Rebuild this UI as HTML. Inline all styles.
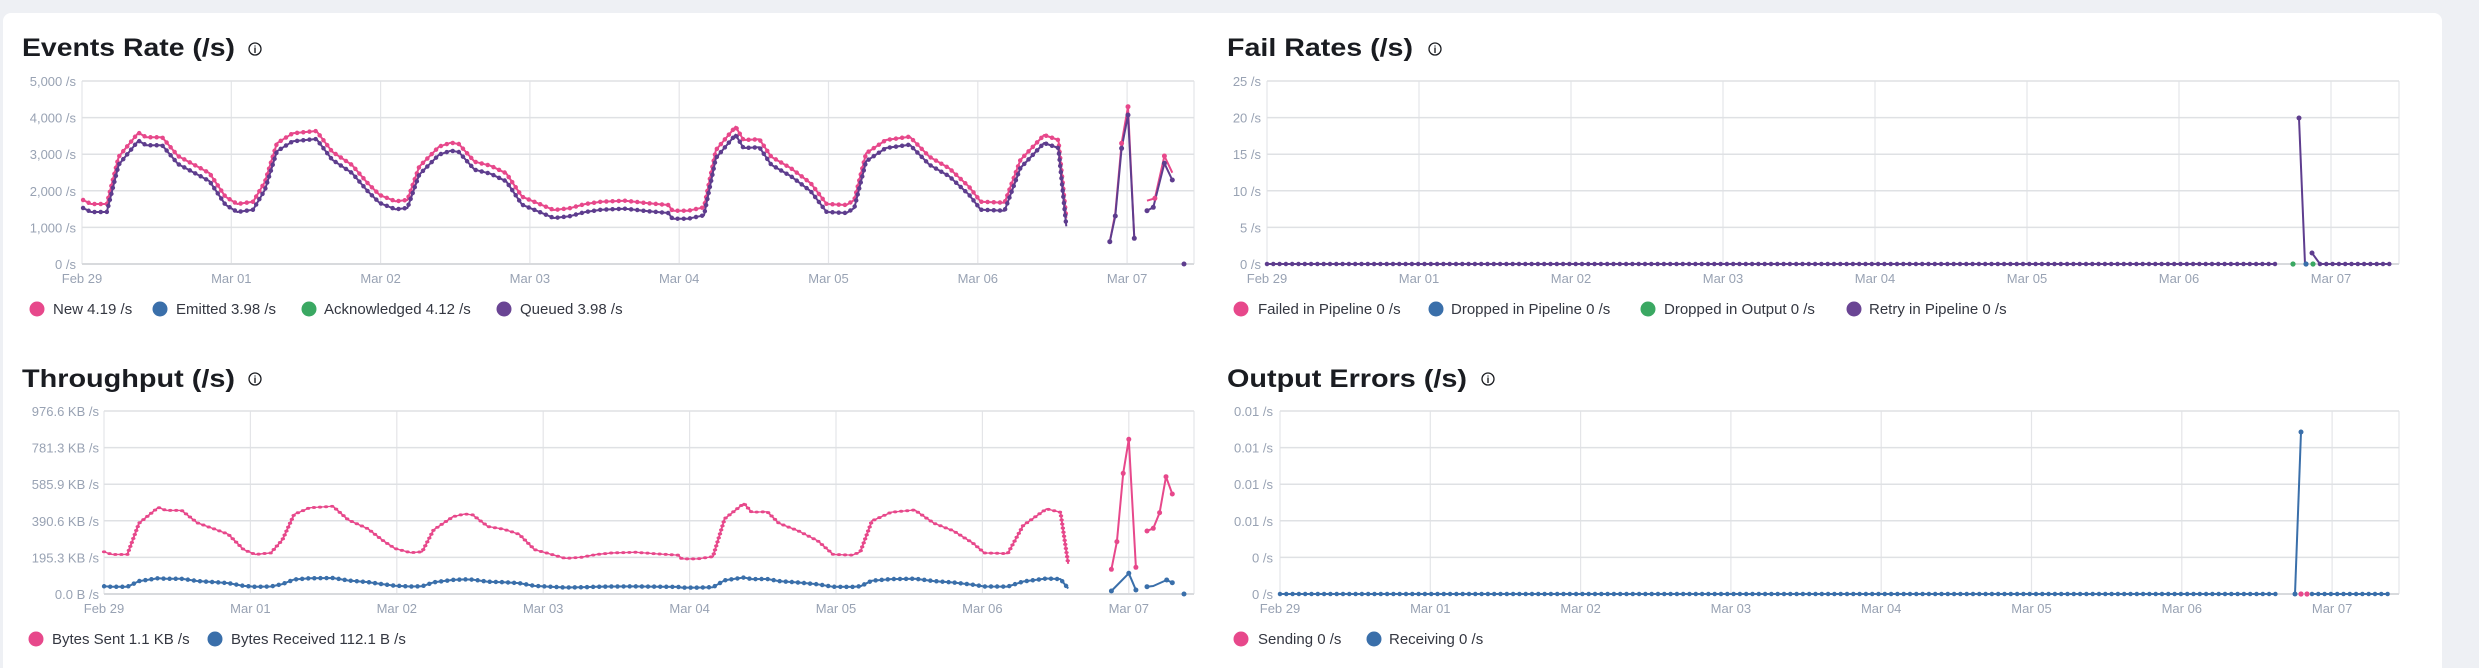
<!DOCTYPE html>
<html><head><meta charset="utf-8"><style>
html,body{margin:0;padding:0;background:#eef0f4;overflow:hidden;width:2479px;height:668px;}
svg{display:block;font-family:"Liberation Sans",sans-serif;}
</style></head><body>
<svg width="2479" height="668" viewBox="0 0 2479 668" xmlns="http://www.w3.org/2000/svg">
<defs>
<polyline id="m" points="83.1,200 91,204 106.8,204 118.7,156.7 138.4,132.7 146.3,137.3 162.2,137.3 178,156 197.8,166.7 209.6,173.3 225.4,196.7 237.3,204 253.1,201.7 265,181.7 276.9,143.3 292.7,133.3 316.4,131 332.2,151.7 352,165 367.8,183.3 379.7,195 395.5,201.3 407.4,200 419.2,166.7 439,146.7 450.9,142.7 458.8,144 474.6,161.7 490.4,165.7 506.2,173.3 522.1,196.7 537.9,203.3 553.7,210 569.5,208.3 585.3,204 601.2,201.7 624.9,200.7 648.6,203.3 668.4,205 672.4,210.7 688.2,210.7 704,207.3 715.9,150 735.6,126.7 743.5,140 759.4,139.3 771.2,156.7 791,168.3 810.8,183.3 826.6,204 846.4,205 854.3,200 866.1,153.3 885.9,140 909.7,136.7 929.4,156.7 949.2,168.3 969,186.7 980.8,201.7 1004.6,202.7 1020.4,160 1044.1,135 1058.4,140 1066.3,218.3" fill="none"/>
<polyline id="b" points="104.1,586.3 111.8,586.8 127.3,586.8 139,581.1 158.3,578.2 166.1,578.8 181.7,578.8 197.1,581 216.6,582.3 228.1,583.1 243.6,585.9 255.3,586.8 270.8,586.5 282.3,584.1 294.1,579.5 309.6,578.3 332.9,578 348.4,580.5 367.8,582.1 383.3,584.3 394.9,585.7 410.4,586.5 422.1,586.3 433.7,582.3 453.1,579.9 464.8,579.4 472.5,579.6 488,581.7 503.5,582.2 519,583.1 534.6,585.9 550.1,586.7 565.6,587.5 581.1,587.3 596.5,586.8 612.1,586.5 635.4,586.4 658.6,586.7 678,586.9 682,587.6 697.5,587.6 713,587.2 724.6,580.3 743.9,577.5 751.7,579.1 767.3,579 778.9,581.1 798.2,582.5 817.7,584.3 833.2,586.8 852.6,586.9 860.3,586.3 871.9,580.7 891.3,579.1 914.9,578.7 934,581.1 953.4,582.5 972.8,584.7 984.4,586.5 1007.7,586.6 1023.2,581.5 1046.4,578.5 1060.5,579.1 1068.2,588.5" fill="none"/>
</defs>
<rect x="0" y="0" width="2479" height="668" fill="#eef0f4"/>
<rect x="3" y="13" width="2439" height="680" rx="8" fill="#ffffff"/>

<g stroke="#e4e5e8" stroke-width="1.2">
<path d="M82,81V264M231.3,81V264M380.6,81V264M529.9,81V264M679.2,81V264M828.5,81V264M977.8,81V264M1127.1,81V264M1194,81V264"/>
<path d="M1267,81V264M1419,81V264M1571,81V264M1723,81V264M1875,81V264M2027,81V264M2179,81V264M2331,81V264M2399,81V264"/>
<path d="M104,411V594M250.4,411V594M396.8,411V594M543.2,411V594M689.6,411V594M836,411V594M982.4,411V594M1128.8,411V594M1194,411V594"/>
<path d="M1280,411V594M1430.3,411V594M1580.6,411V594M1730.9,411V594M1881.2,411V594M2031.5,411V594M2181.8,411V594M2332.1,411V594M2399,411V594"/>
</g>
<g stroke="#dfe1e4" stroke-width="1.5">
<path d="M82,81H1194M82,117.6H1194M82,154.2H1194M82,190.8H1194M82,227.4H1194"/>
<path d="M1267,81H2399M1267,117.6H2399M1267,154.2H2399M1267,190.8H2399M1267,227.4H2399"/>
<path d="M104,411H1194M104,447.6H1194M104,484.2H1194M104,520.8H1194M104,557.4H1194"/>
<path d="M1280,411H2399M1280,447.6H2399M1280,484.2H2399M1280,520.8H2399M1280,557.4H2399"/>
</g>
<g stroke="#d8dadd" stroke-width="2">
<path d="M82,264H1194M1267,264H2399M104,594H1194M1280,594H2399"/>
</g>

<g font-size="13" fill="#98a2b3" text-anchor="end">
<text x="76" y="86">5,000 /s</text><text x="76" y="122.6">4,000 /s</text><text x="76" y="159.2">3,000 /s</text><text x="76" y="195.8">2,000 /s</text><text x="76" y="232.4">1,000 /s</text><text x="76" y="269">0 /s</text>
<text x="1261" y="86">25 /s</text><text x="1261" y="122.6">20 /s</text><text x="1261" y="159.2">15 /s</text><text x="1261" y="195.8">10 /s</text><text x="1261" y="232.4">5 /s</text><text x="1261" y="269">0 /s</text>
<text x="99" y="416">976.6 KB /s</text><text x="99" y="452.6">781.3 KB /s</text><text x="99" y="489.2">585.9 KB /s</text><text x="99" y="525.8">390.6 KB /s</text><text x="99" y="562.4">195.3 KB /s</text><text x="99" y="599">0.0 B /s</text>
<text x="1273" y="416">0.01 /s</text><text x="1273" y="452.6">0.01 /s</text><text x="1273" y="489.2">0.01 /s</text><text x="1273" y="525.8">0.01 /s</text><text x="1273" y="562.4">0 /s</text><text x="1273" y="599">0 /s</text>
</g>
<g font-size="13" fill="#98a2b3" text-anchor="middle">
<text x="82" y="283">Feb 29</text><text x="231.3" y="283">Mar 01</text><text x="380.6" y="283">Mar 02</text><text x="529.9" y="283">Mar 03</text><text x="679.2" y="283">Mar 04</text><text x="828.5" y="283">Mar 05</text><text x="977.8" y="283">Mar 06</text><text x="1127.1" y="283">Mar 07</text>
<text x="1267" y="283">Feb 29</text><text x="1419" y="283">Mar 01</text><text x="1571" y="283">Mar 02</text><text x="1723" y="283">Mar 03</text><text x="1875" y="283">Mar 04</text><text x="2027" y="283">Mar 05</text><text x="2179" y="283">Mar 06</text><text x="2331" y="283">Mar 07</text>
<text x="104" y="613">Feb 29</text><text x="250.4" y="613">Mar 01</text><text x="396.8" y="613">Mar 02</text><text x="543.2" y="613">Mar 03</text><text x="689.6" y="613">Mar 04</text><text x="836" y="613">Mar 05</text><text x="982.4" y="613">Mar 06</text><text x="1128.8" y="613">Mar 07</text>
<text x="1280" y="613">Feb 29</text><text x="1430.3" y="613">Mar 01</text><text x="1580.6" y="613">Mar 02</text><text x="1730.9" y="613">Mar 03</text><text x="1881.2" y="613">Mar 04</text><text x="2031.5" y="613">Mar 05</text><text x="2181.8" y="613">Mar 06</text><text x="2332.1" y="613">Mar 07</text>
</g>

<!-- Events series -->
<g fill="none" stroke-linejoin="round">
<use href="#m" stroke="#e7488b" stroke-width="2"/>
<use href="#m" stroke="#e7488b" stroke-width="4.5" stroke-dasharray="0 6.2" stroke-linecap="round"/>
<polyline points="1109.8,241.7 1115.3,213.3 1121.6,143.3 1128,106.7 1134.3,238.3" stroke="#e7488b" stroke-width="2"/>
<polyline points="1147,200.7 1154.9,198.3 1164.4,156 1172.3,172.7" stroke="#e7488b" stroke-width="2"/>
<use href="#m" transform="translate(0,8)" stroke="#5e3d8e" stroke-width="2"/>
<use href="#m" transform="translate(0,8)" stroke="#5e3d8e" stroke-width="4.5" stroke-dasharray="0 6.2" stroke-linecap="round"/>
<polyline points="1109.8,241.7 1115.3,216 1121.6,148.3 1128,115 1134.3,238.3" stroke="#5e3d8e" stroke-width="2"/>
<polyline points="1147,210.7 1153.3,207.3 1164.4,163.3 1172.3,180" stroke="#5e3d8e" stroke-width="2"/>
</g>
<g fill="#5e3d8e">
<circle cx="1109.8" cy="241.7" r="2.5"/><circle cx="1115.3" cy="216" r="2.5"/><circle cx="1121.6" cy="148.3" r="2.5"/><circle cx="1128" cy="115" r="2.5"/><circle cx="1134.3" cy="238.3" r="2.5"/>
<circle cx="1147" cy="210.7" r="2.5"/><circle cx="1153.3" cy="207.3" r="2.5"/><circle cx="1164.4" cy="163.3" r="2.5"/><circle cx="1172.3" cy="180" r="2.5"/><circle cx="1184" cy="264" r="2.5"/>
</g>
<g fill="#e7488b"><circle cx="1121.6" cy="143.3" r="2.5"/><circle cx="1128" cy="106.7" r="2.5"/><circle cx="1154.9" cy="198.3" r="2.5"/><circle cx="1164.4" cy="156" r="2.5"/></g>

<!-- Throughput series -->
<g fill="none" stroke-linejoin="round">
<use href="#m" transform="matrix(0.9806,0,0,0.66,22.6,419.8)" stroke="#e7488b" stroke-width="2" vector-effect="non-scaling-stroke"/>
<use href="#m" transform="matrix(0.9806,0,0,0.66,22.6,419.8)" stroke="#e7488b" stroke-width="4.5" stroke-dasharray="0 6.2" stroke-linecap="round" vector-effect="non-scaling-stroke"/>
<polyline points="1111.4,569.3 1116.9,541.7 1123.2,473.3 1128.8,439.3 1135.9,567.3" stroke="#e7488b" stroke-width="2"/>
<polyline points="1147,531 1153.3,528.3 1159.6,512.7 1166,476.7 1172.3,494" stroke="#e7488b" stroke-width="2"/>
<use href="#b" stroke="#3a6faa" stroke-width="2"/>
<use href="#b" stroke="#3a6faa" stroke-width="4.5" stroke-dasharray="0 6.1" stroke-linecap="round"/>
<polyline points="1111.4,591 1128.8,573.3 1135.9,590" stroke="#3a6faa" stroke-width="2"/>
<polyline points="1147,586.7 1153.3,586 1166.7,580 1172.3,582.7" stroke="#3a6faa" stroke-width="2"/>
</g>
<g fill="#e7488b">
<circle cx="1111.4" cy="569.3" r="2.5"/><circle cx="1116.9" cy="541.7" r="2.5"/><circle cx="1123.2" cy="473.3" r="2.5"/><circle cx="1128.8" cy="439.3" r="2.5"/><circle cx="1135.9" cy="567.3" r="2.5"/>
<circle cx="1147" cy="531" r="2.5"/><circle cx="1153.3" cy="528.3" r="2.5"/><circle cx="1159.6" cy="512.7" r="2.5"/><circle cx="1166" cy="476.7" r="2.5"/><circle cx="1172.3" cy="494" r="2.5"/>
</g>
<g fill="#3a6faa"><circle cx="1111.4" cy="591" r="2.5"/><circle cx="1128.8" cy="573.3" r="2.5"/><circle cx="1135.9" cy="590" r="2.5"/><circle cx="1147" cy="586.7" r="2.5"/><circle cx="1166.7" cy="580" r="2.5"/><circle cx="1172.3" cy="582.7" r="2.5"/><circle cx="1184" cy="594" r="2.5"/></g>

<!-- Fail rates series -->
<g fill="none">
<path d="M1267,264H2277" stroke="#5e3d8e" stroke-width="2"/>
<path d="M1267,264H2277" stroke="#5e3d8e" stroke-width="4.5" stroke-dasharray="0 6.3" stroke-linecap="round"/>
<polyline points="2299,118 2305,264" stroke="#5e3d8e" stroke-width="2"/>
<polyline points="2312,253 2320,264 2390,264" stroke="#5e3d8e" stroke-width="2"/>
<path d="M2320,264H2390" stroke="#5e3d8e" stroke-width="4.5" stroke-dasharray="0 6.3" stroke-linecap="round"/>
</g>
<circle cx="2299" cy="118" r="2.5" fill="#5e3d8e"/><circle cx="2312" cy="253" r="2.5" fill="#5e3d8e"/>
<circle cx="2293" cy="264" r="2.6" fill="#3aa862"/><circle cx="2306" cy="264" r="2.6" fill="#3a6faa"/><circle cx="2313" cy="264" r="2.6" fill="#3aa862"/>

<!-- Output errors series -->
<g fill="none">
<path d="M1280,594H2277" stroke="#3a6faa" stroke-width="2"/>
<path d="M1280,594H2277" stroke="#3a6faa" stroke-width="4.5" stroke-dasharray="0 6.3" stroke-linecap="round"/>
<polyline points="2295,594 2301,432" stroke="#3a6faa" stroke-width="2"/>
<path d="M2312,594H2389" stroke="#3a6faa" stroke-width="2"/>
<path d="M2312,594H2389" stroke="#3a6faa" stroke-width="4.5" stroke-dasharray="0 6.3" stroke-linecap="round"/>
</g>
<circle cx="2301" cy="432" r="2.5" fill="#3a6faa"/><circle cx="2295" cy="594" r="2.5" fill="#3a6faa"/>
<circle cx="2301" cy="594" r="2.6" fill="#e7488b"/><circle cx="2307" cy="594" r="2.6" fill="#e7488b"/>

<g font-weight="bold" font-size="25" fill="#1a1c21">
<text x="22" y="56" textLength="213" lengthAdjust="spacingAndGlyphs">Events Rate (/s)</text>
<text x="1227" y="56" textLength="186" lengthAdjust="spacingAndGlyphs">Fail Rates (/s)</text>
<text x="22" y="387" textLength="213" lengthAdjust="spacingAndGlyphs">Throughput (/s)</text>
<text x="1227" y="387" textLength="240" lengthAdjust="spacingAndGlyphs">Output Errors (/s)</text>
</g>
<g fill="none" stroke="#1a1c21" stroke-width="1.3">
<circle cx="255" cy="49" r="6"/><circle cx="1435" cy="49" r="6"/><circle cx="255" cy="379" r="6"/><circle cx="1488" cy="379" r="6"/>
</g>
<g font-size="10" font-weight="bold" fill="#1a1c21" text-anchor="middle">
<text x="255" y="53">i</text><text x="1435" y="53">i</text><text x="255" y="383">i</text><text x="1488" y="383">i</text>
</g>
<g font-size="15" fill="#343741">
<circle cx="37" cy="309" r="7.5" fill="#e7488b"/><text x="53" y="314">New 4.19 /s</text>
<circle cx="160" cy="309" r="7.5" fill="#3a6faa"/><text x="176" y="314">Emitted 3.98 /s</text>
<circle cx="309" cy="309" r="7.5" fill="#3aa862"/><text x="324" y="314">Acknowledged 4.12 /s</text>
<circle cx="504" cy="309" r="7.5" fill="#6a4594"/><text x="520" y="314">Queued 3.98 /s</text>
<circle cx="1241" cy="309" r="7.5" fill="#e7488b"/><text x="1258" y="314">Failed in Pipeline 0 /s</text>
<circle cx="1436" cy="309" r="7.5" fill="#3a6faa"/><text x="1451" y="314">Dropped in Pipeline 0 /s</text>
<circle cx="1648" cy="309" r="7.5" fill="#3aa862"/><text x="1664" y="314">Dropped in Output 0 /s</text>
<circle cx="1854" cy="309" r="7.5" fill="#6a4594"/><text x="1869" y="314">Retry in Pipeline 0 /s</text>
<circle cx="36" cy="639" r="7.5" fill="#e7488b"/><text x="52" y="644">Bytes Sent 1.1 KB /s</text>
<circle cx="215" cy="639" r="7.5" fill="#3a6faa"/><text x="231" y="644">Bytes Received 112.1 B /s</text>
<circle cx="1241" cy="639" r="7.5" fill="#e7488b"/><text x="1258" y="644">Sending 0 /s</text>
<circle cx="1374" cy="639" r="7.5" fill="#3a6faa"/><text x="1389" y="644">Receiving 0 /s</text>
</g>
</svg>
</body></html>
